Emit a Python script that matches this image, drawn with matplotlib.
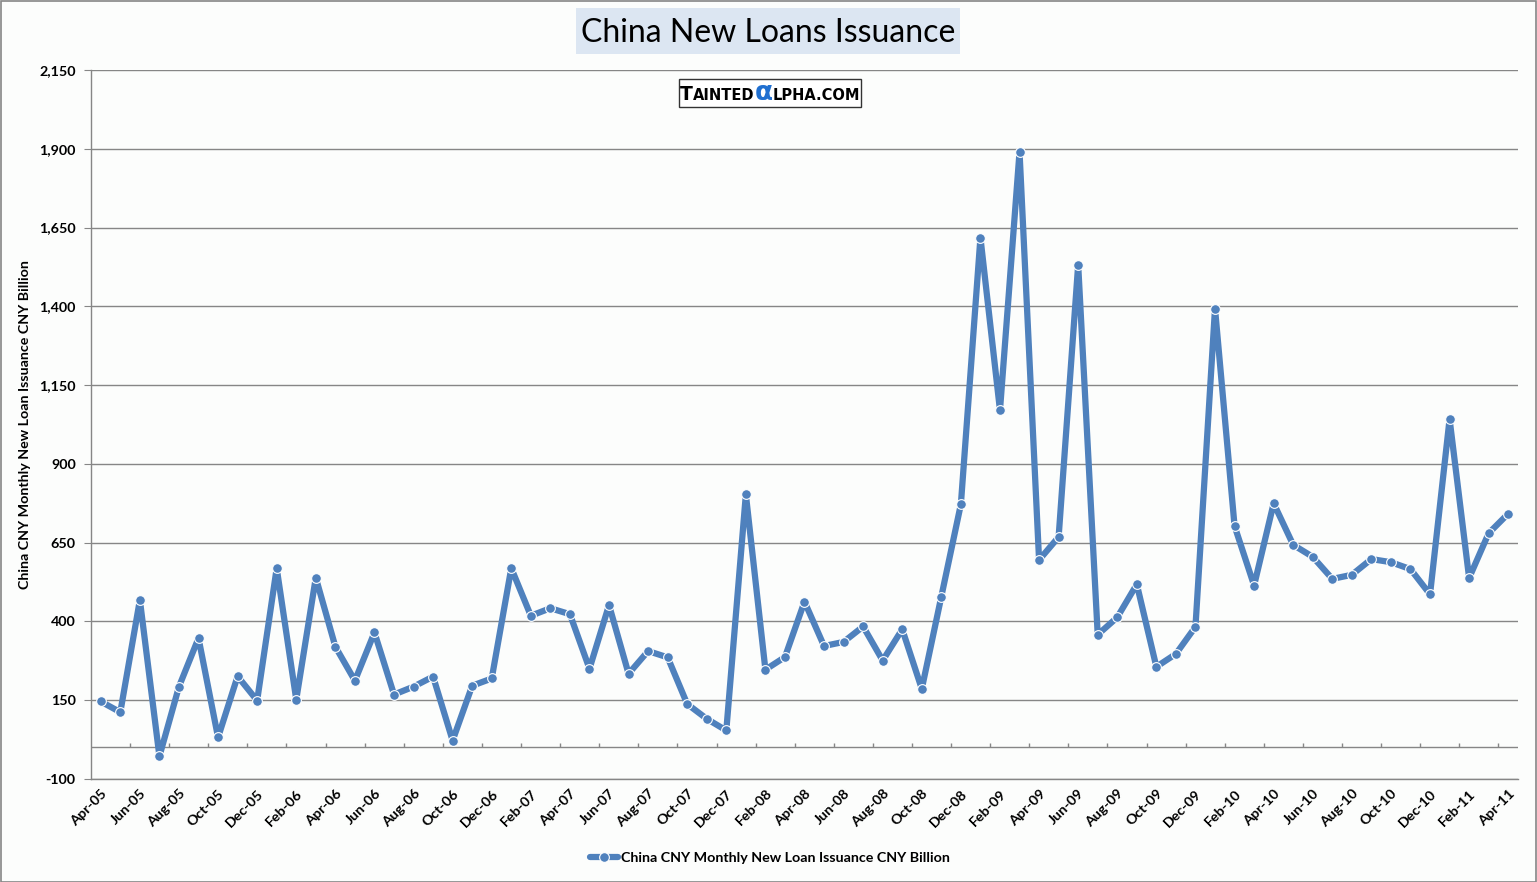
import matplotlib
matplotlib.use("Agg")
import matplotlib.pyplot as plt
import matplotlib.patches as patches
from matplotlib.offsetbox import TextArea, HPacker, AnnotationBbox
import numpy as np
import pandas as pd

# ---- data ----
months = list(pd.date_range("2005-04-01", periods=73, freq="MS").strftime("%b-%y"))
loans = [146, 112, 468, -28, 193, 347, 32, 226, 149, 569, 152, 539, 320, 212, 365, 168,
         193, 225, 22, 196, 219, 569, 418, 442, 423, 250, 452, 234, 306, 286, 138, 91,
         54, 803, 247, 287, 463, 322, 335, 384, 276, 375, 186, 479, 772, 1618, 1070, 1890,
         595, 668, 1532, 358, 413, 518, 256, 297, 383, 1393, 703, 514, 775, 643, 605, 535,
         548, 598, 588, 566, 486, 1042, 538, 680, 742]
y_ticks = [-100, 150, 400, 650, 900, 1150, 1400, 1650, 1900, 2150]
series_name = "China CNY Monthly New Loan Issuance CNY Billion"
title = "China New Loans Issuance"

W, H = 1537, 882
FONT = "Lato"
GRID = "#868686"
LINE = "#4F81BD"
BG = "#FCFDFC"
FS = 10.3

fig = plt.figure(figsize=(W / 100, H / 100), dpi=100, facecolor=BG)

# outer frame
fig.patches.append(patches.Rectangle((0.5 / W, 0.5 / H), 1 - 1.5 / W, 1 - 1.5 / H,
                                     transform=fig.transFigure, fill=False,
                                     edgecolor=GRID, lw=1.2))

L, R, T, B = 91, 1518, 70, 779
ax = fig.add_axes([L / W, 1 - B / H, (R - L) / W, (B - T) / H], facecolor=BG)

x = np.arange(len(loans))
ax.plot(x, loans, color=LINE, lw=4.5, marker="o", ms=7, mfc=LINE, mec="white",
        mew=0.8, solid_joinstyle="round", solid_capstyle="round",
        label=series_name, zorder=3)

ax.set_xlim(-0.5, len(loans) - 0.5)
ax.set_ylim(-100, 2150)
ax.set_yticks(y_ticks)
ax.set_yticklabels([f"{v:,}" for v in y_ticks], fontfamily=FONT, fontweight="bold",
                   fontsize=FS)
ax.yaxis.grid(True, color=GRID, lw=1)
ax.set_axisbelow(True)

ax.set_xticks(x[::2])
ax.set_xticklabels(months[::2], rotation=45, ha="right", va="top",
                   rotation_mode="anchor", fontfamily=FONT, fontweight="bold",
                   fontsize=FS)
ax.tick_params(axis="x", length=0, pad=6)
ax.tick_params(axis="y", length=5, color=GRID, pad=6)

for s in ["top", "right"]:
    ax.spines[s].set_visible(False)
for s in ["left", "bottom"]:
    ax.spines[s].set_color(GRID)
    ax.spines[s].set_linewidth(1)

# category axis at zero with tick marks every two months between categories
ax.axhline(0, color=GRID, lw=1, zorder=2)
bounds = np.arange(1.5, len(loans) - 0.5, 2)
ax.vlines(bounds, 0, 14, color=GRID, lw=1, zorder=2)

ax.set_ylabel(series_name, fontfamily=FONT, fontweight="bold", fontsize=FS)
ax.yaxis.set_label_coords(-0.042, 0.5)

# title box
fig.patches.append(patches.Rectangle((576 / W, 1 - 54 / H), 384 / W, 46 / H,
                                     transform=fig.transFigure, facecolor="#DCE6F2",
                                     edgecolor="none"))
fig.text(768 / W, 1 - 33 / H, title, ha="center", va="center", fontfamily=FONT,
         fontsize=23, color="black")

# watermark
parts = [("T", 13.5, "black"), ("AINTED", 10.5, "black"), ("α", 19, "#1F6FD0"),
         ("LPHA.COM", 10.5, "black")]
areas = [TextArea(t, textprops=dict(fontsize=s, color=c, fontfamily="DejaVu Sans",
                                    fontweight="bold")) for t, s, c in parts]
pack = HPacker(children=areas, align="baseline", pad=0, sep=0)
ab = AnnotationBbox(pack, (770 / W, 1 - 93 / H), xycoords="figure fraction",
                    frameon=True, pad=0.1,
                    bboxprops=dict(edgecolor="#333333", lw=1, facecolor="white"))
fig.add_artist(ab)

leg = fig.legend(loc="center", bbox_to_anchor=(770 / W, 1 - 858 / H), frameon=False,
                 prop=dict(family=FONT, weight="bold", size=FS), handlelength=2.0,
                 handletextpad=0.2)

fig.savefig("out.png", dpi=100, facecolor=BG)
